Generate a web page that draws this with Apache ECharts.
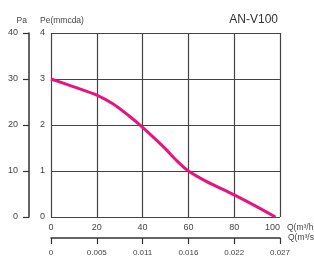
<!DOCTYPE html>
<html><head><meta charset="utf-8">
<script src="https://cdn.jsdelivr.net/npm/echarts@6/dist/echarts.min.js"></script>
<style>html,body{margin:0;padding:0;background:#fff}#c{width:314px;height:257px}</style>
</head><body><div id="c"></div>
<script>
const flowM3h = [0, 10, 20, 27, 34, 40, 45, 50, 55, 60, 68, 80, 90, 98];
const pressureMmcda = [3.0, 2.83, 2.65, 2.46, 2.2, 1.95, 1.72, 1.48, 1.22, 1.0, 0.77, 0.48, 0.22, 0.0];
const flowM3sLabels = ['0', '0.005', '0.011', '0.016', '0.022', '0.027'];
const title = 'AN-V100';

const chart = echarts.init(document.getElementById('c'), null, {renderer: 'canvas'});
const font = 'Liberation Sans, Arial, sans-serif';
const lblColor = '#444';
chart.setOption({
  animation: false,
  title: {text: title, right: 31, top: 9, textStyle: {fontFamily: font, fontSize: 12, fontWeight: 'normal', color: '#333'}},
  grid: {left: 51, right: 34, top: 33, bottom: 40, containLabel: false, outerBoundsMode: 'none'},
  xAxis: [
    {type: 'value', min: 0, max: 100, interval: 20, position: 'bottom',
     name: 'Q(m³/h)', nameLocation: 'end', nameGap: 7, nameMoveOverlap: false,
     nameTextStyle: {fontFamily: font, fontSize: 8.5, color: lblColor, verticalAlign: 'top', padding: [6, 0, 0, 0]},
     axisLine: {show: false, onZero: false}, axisTick: {show: false},
     axisLabel: {fontFamily: font, fontSize: 9, color: lblColor, margin: 6, alignMaxLabel: 'right'},
     splitLine: {show: true, lineStyle: {color: '#444', width: 1.2}}},
    {type: 'value', min: 0, max: 100, interval: 20, position: 'bottom', offset: 21,
     name: 'Q(m³/s)', nameLocation: 'end', nameGap: 8, nameMoveOverlap: false,
     nameTextStyle: {fontFamily: font, fontSize: 8.5, color: lblColor, padding: [6, 0, 0, 0]},
     axisLine: {show: true, onZero: false, lineStyle: {color: '#333', width: 1.5}},
     axisTick: {show: true, length: 6, lineStyle: {color: '#333', width: 1.2}},
     axisLabel: {fontFamily: font, fontSize: 8, color: lblColor, margin: 11,
       formatter: (v) => flowM3sLabels[Math.round(v / 20)]},
     splitLine: {show: false}}
  ],
  yAxis: [
    {type: 'value', min: 0, max: 4, interval: 1, position: 'left',
     name: 'Pe(mmcda)', nameLocation: 'end', nameGap: 8, nameMoveOverlap: false,
     nameTextStyle: {fontFamily: font, fontSize: 8.5, color: lblColor, align: 'left', padding: [0, 0, 0, -11]},
     axisLine: {show: false, onZero: false}, axisTick: {show: false},
     axisLabel: {fontFamily: font, fontSize: 9, color: lblColor, margin: 6},
     splitLine: {show: true, lineStyle: {color: '#444', width: 1.2}}},
    {type: 'value', min: 0, max: 40, interval: 10, position: 'left', offset: 22,
     name: 'Pa', nameLocation: 'end', nameGap: 8, nameMoveOverlap: false,
     nameTextStyle: {fontFamily: font, fontSize: 8.5, color: lblColor, align: 'right', padding: [0, 2, 0, 0]},
     axisLine: {show: true, onZero: false, lineStyle: {color: '#333', width: 1.5}},
     axisTick: {show: true, length: 6, lineStyle: {color: '#333', width: 1.2}},
     axisLabel: {fontFamily: font, fontSize: 9, color: lblColor, margin: 11},
     splitLine: {show: false}}
  ],
  series: [{
    type: 'line', xAxisIndex: 0, yAxisIndex: 0, smooth: 0.3, symbol: 'none',
    lineStyle: {color: '#E5147F', width: 3},
    data: flowM3h.map((x, i) => [x, pressureMmcda[i]])
  }]
});
</script></body></html>
